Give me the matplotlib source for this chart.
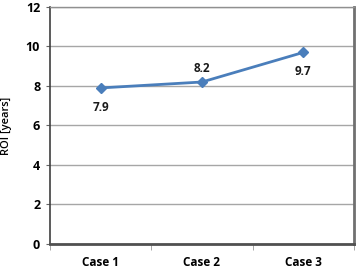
import numpy as np
import matplotlib.pyplot as plt

# data
cases = ['Case 1', 'Case 2', 'Case 3']
roi = [7.9, 8.2, 9.7]
label_offsets = [-14, 10, -14]  # points, below/above marker

plt.rcParams['font.family'] = ['Open Sans', 'DejaVu Sans']

fig = plt.figure(figsize=(3.59, 2.8), dpi=100)
ax = fig.add_axes([0.139, 0.129, 0.847, 0.846])

x = np.arange(len(cases))
ax.plot(x, roi, color='#4a7ebb', lw=2, marker='D', ms=5, zorder=3)

for xi, v, off in zip(x, roi, label_offsets):
    ax.annotate(f'{v:.1f}', (xi, v), xytext=(0, off), textcoords='offset points',
                ha='center', va='center', fontsize=8.5, fontweight='bold', color='#1a1a1a')

ax.set_xlim(-0.5, 2.5)
ax.set_ylim(0, 12)
ax.set_yticks(np.arange(0, 13, 2))
ax.set_xticks(x)
ax.set_xticklabels(cases, fontsize=8.5, fontweight='bold')
ax.set_xticks([-0.5, 0.5, 1.5, 2.5], minor=True)
ax.tick_params(axis='x', which='major', length=0, pad=9)
ax.tick_params(axis='x', which='minor', length=4, color='#999999', direction='out')
ax.tick_params(axis='y', length=3, color='#666666', labelsize=9, pad=4)
for lab in ax.get_yticklabels():
    lab.set_fontweight('bold')

ax.yaxis.grid(True, color='#a6a6a6', lw=1)
ax.set_axisbelow(True)

ax.spines['left'].set_color('#404040')
ax.spines['left'].set_linewidth(1.2)
ax.spines['bottom'].set_color('#505050')
ax.spines['bottom'].set_linewidth(2)
ax.spines['right'].set_color('#707070')
ax.spines['right'].set_linewidth(2)
ax.spines['top'].set_color('#909090')
ax.spines['top'].set_linewidth(1)

ax.set_ylabel('ROI [years]', fontsize=8, fontweight='semibold', labelpad=10)

fig.savefig('out.png', dpi=100)
